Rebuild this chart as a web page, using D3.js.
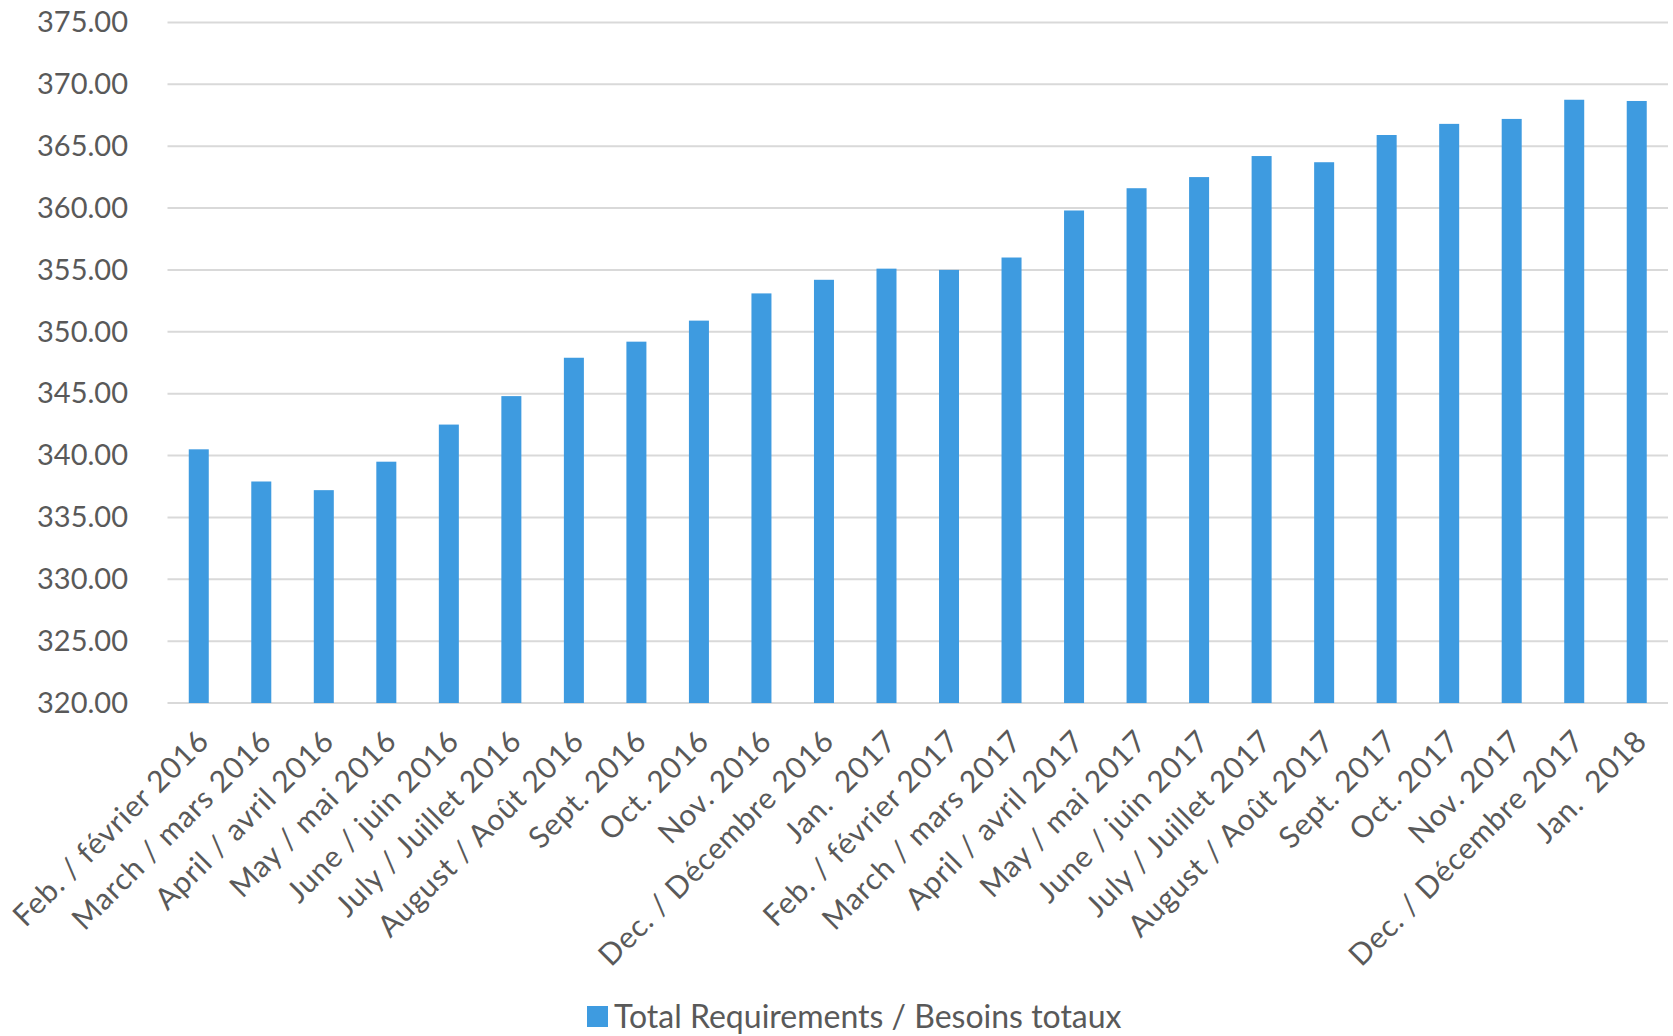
<!DOCTYPE html>
<html>
<head>
<meta charset="utf-8">
<script src="https://cdn.jsdelivr.net/npm/d3@7"></script>
<style>
  html, body { margin: 0; padding: 0; background: #fff; }
  svg { display: block; }
  text { font-family: Lato, "Open Sans", sans-serif; }
  .xlab text { white-space: pre; }
</style>
</head>
<body>
<svg id="chart" width="1673" height="1036"></svg>
<script>
const categories = [
  "Feb. / février 2016", "March / mars 2016", "April / avril 2016", "May / mai 2016",
  "June / juin 2016", "July / Juillet 2016", "August / Août 2016", "Sept. 2016",
  "Oct. 2016", "Nov. 2016", "Dec. / Décembre 2016", "Jan.  2017",
  "Feb. / février 2017", "March / mars 2017", "April / avril 2017", "May / mai 2017",
  "June / juin 2017", "July / Juillet 2017", "August / Août 2017", "Sept. 2017",
  "Oct. 2017", "Nov. 2017", "Dec. / Décembre 2017", "Jan.  2018"
];
const totalRequirements = [
  340.5, 337.9, 337.2, 339.5, 342.5, 344.8, 347.9, 349.2,
  350.9, 353.1, 354.2, 355.1, 355.0, 356.0, 359.8, 361.6,
  362.5, 364.2, 363.7, 365.9, 366.8, 367.2, 368.75, 368.65
];
const yTicks = [320, 325, 330, 335, 340, 345, 350, 355, 360, 365, 370, 375];
const seriesName = "Total Requirements / Besoins totaux";

const svg = d3.select("#chart");
const x = d3.scaleBand().domain(categories).range([167.5, 1668]).paddingInner(0.68).paddingOuter(0.34);
const y = d3.scaleLinear().domain([320, 375]).range([703, 22.4]);

// gridlines
svg.append("g")
  .selectAll("line").data(yTicks).join("line")
  .attr("x1", 167.5).attr("x2", 1668)
  .attr("y1", d => y(d)).attr("y2", d => y(d))
  .attr("stroke", "#d9d9d9").attr("stroke-width", 2);

// y axis labels
const yAxis = d3.axisLeft(y).tickValues(yTicks).tickFormat(d3.format(".2f")).tickSize(0).tickPadding(0);
const gy = svg.append("g").attr("transform", "translate(128,0)").call(yAxis);
gy.select(".domain").remove();
gy.selectAll("text").attr("font-size", 29).attr("fill", "#595959").attr("font-family", "Lato, sans-serif");

// bars
svg.append("g")
  .selectAll("rect").data(totalRequirements).join("rect")
  .attr("x", (d, i) => x(categories[i]))
  .attr("width", x.bandwidth())
  .attr("y", d => y(d))
  .attr("height", d => y(320) - y(d))
  .attr("fill", "#3e9be0");

// x labels
const xAxis = d3.axisBottom(x).tickSize(0).tickPadding(0);
const gx = svg.append("g").attr("class", "xlab").attr("transform", "translate(0,703)").call(xAxis);
gx.select(".domain").remove();
gx.selectAll("text")
  .attr("font-size", 30).attr("fill", "#595959").attr("font-family", "Lato, sans-serif")
  .attr("letter-spacing", 0.8)
  .attr("text-anchor", "end")
  .attr("dy", null).attr("y", null)
  .attr("transform", "translate(12,40) rotate(-45)");

// legend
const lg = svg.append("g");
lg.append("rect").attr("x", 587).attr("y", 1006).attr("width", 21).attr("height", 21).attr("fill", "#3e9be0");
lg.append("text").attr("x", 614).attr("y", 1028).attr("font-size", 32).attr("fill", "#595959").text(seriesName);
</script>
</body>
</html>
